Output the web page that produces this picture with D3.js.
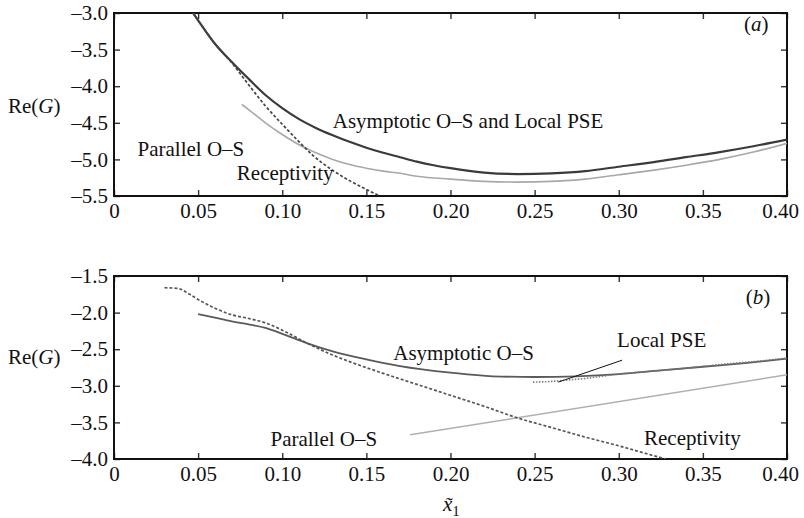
<!DOCTYPE html>
<html>
<head>
<meta charset="utf-8">
<script src="https://cdn.jsdelivr.net/npm/d3@7"></script>
<style>
  body { margin: 0; background: #fff; }
  svg text { font-family: "Liberation Serif", "Times New Roman", "DejaVu Serif", serif !important; fill: #111; }
</style>
</head>
<body>
<div id="chart"></div>
<script>

var svgWidth = 804;
var svgHeight = 518;

// x ticks shared by both panels
var xTicks = [0, 0.05, 0.10, 0.15, 0.20, 0.25, 0.30, 0.35, 0.40];

// panel (a)
var yTicksA = [-3.0, -3.5, -4.0, -4.5, -5.0, -5.5];
var asympA = [[0.047, -3.0], [0.05, -3.1], [0.06, -3.42], [0.07, -3.67], [0.08, -3.9], [0.09, -4.12],
  [0.10, -4.3], [0.11, -4.45], [0.12, -4.57], [0.13, -4.67], [0.14, -4.76], [0.15, -4.84],
  [0.16, -4.91], [0.17, -4.97], [0.18, -5.03], [0.19, -5.08], [0.20, -5.12], [0.22, -5.18],
  [0.24, -5.2], [0.26, -5.19], [0.28, -5.16], [0.30, -5.1], [0.32, -5.04], [0.34, -4.97],
  [0.36, -4.9], [0.38, -4.82], [0.40, -4.73]];
var parallelA = [[0.076, -4.25], [0.08, -4.32], [0.09, -4.5], [0.10, -4.66], [0.11, -4.8],
  [0.12, -4.91], [0.13, -5.0], [0.14, -5.07], [0.15, -5.12], [0.16, -5.16], [0.17, -5.19],
  [0.18, -5.23], [0.20, -5.27], [0.22, -5.3], [0.24, -5.31], [0.26, -5.3], [0.28, -5.27],
  [0.30, -5.21], [0.32, -5.15], [0.34, -5.08], [0.36, -5.0], [0.38, -4.9], [0.40, -4.78]];
var receptA = [[0.047, -3.0], [0.05, -3.1], [0.06, -3.42], [0.07, -3.68], [0.08, -3.98],
  [0.09, -4.27], [0.10, -4.52], [0.11, -4.76], [0.118, -4.94], [0.13, -5.15], [0.14, -5.29],
  [0.15, -5.41], [0.158, -5.5]];

// panel (b)
var yTicksB = [-1.5, -2.0, -2.5, -3.0, -3.5, -4.0];
var asympB = [[0.05, -2.02], [0.06, -2.07], [0.07, -2.12], [0.08, -2.16], [0.09, -2.21],
  [0.10, -2.29], [0.115, -2.42], [0.13, -2.53], [0.15, -2.64], [0.17, -2.73], [0.20, -2.82],
  [0.225, -2.87], [0.25, -2.88], [0.275, -2.87], [0.30, -2.84], [0.325, -2.79], [0.35, -2.74],
  [0.375, -2.69], [0.40, -2.63]];
var localPseB = [[0.249, -2.95], [0.26, -2.94], [0.27, -2.92], [0.28, -2.9], [0.29, -2.87],
  [0.30, -2.84], [0.32, -2.8], [0.34, -2.76], [0.36, -2.71], [0.38, -2.67], [0.40, -2.62]];
var parallelB = [[0.176, -3.67], [0.40, -2.85]];
var receptB = [[0.030, -1.66], [0.038, -1.67], [0.045, -1.75], [0.05, -1.82], [0.06, -1.94],
  [0.07, -2.03], [0.08, -2.08], [0.09, -2.14], [0.10, -2.24], [0.115, -2.42], [0.13, -2.58],
  [0.14, -2.67], [0.16, -2.83], [0.18, -2.98], [0.20, -3.13], [0.22, -3.28], [0.24, -3.44],
  [0.26, -3.57], [0.28, -3.7], [0.30, -3.82], [0.32, -3.95], [0.328, -4.0]];

var left = 114, right = 787;
var fontSize = 21;

var svg = d3.select("#chart")
    .append("svg")
    .attr("width", svgWidth)
    .attr("height", svgHeight);

var xScale = d3.scaleLinear().domain([0, 0.40]).range([left, right]);

function fmtX(d) { return d === 0 ? "0" : d.toFixed(2); }
function fmtY(d) { return d.toFixed(1).replace("-", "\u2013"); }

function drawPanel(top, bottom, yTicks, clipId) {
    var yScale = d3.scaleLinear()
        .domain([yTicks[0], yTicks[yTicks.length - 1]])
        .range([top, bottom]);

    svg.append("clipPath").attr("id", clipId)
        .append("rect")
        .attr("x", left).attr("y", top)
        .attr("width", right - left).attr("height", bottom - top);

    var bottomAxis = d3.axisBottom(xScale).tickValues(xTicks).tickFormat(fmtX)
        .tickSize(-6).tickPadding(7);
    var topAxis = d3.axisTop(xScale).tickValues(xTicks).tickFormat("").tickSize(-6);
    var leftAxis = d3.axisLeft(yScale).tickValues(yTicks).tickFormat(fmtY)
        .tickSize(-6).tickPadding(6);
    var rightAxis = d3.axisRight(yScale).tickValues(yTicks).tickFormat("").tickSize(-6);

    var gb = svg.append("g").attr("transform", `translate(0, ${bottom})`).call(bottomAxis);
    var gt = svg.append("g").attr("transform", `translate(0, ${top})`).call(topAxis);
    var gl = svg.append("g").attr("transform", `translate(${left}, 0)`).call(leftAxis);
    var gr = svg.append("g").attr("transform", `translate(${right}, 0)`).call(rightAxis);

    [gb, gt, gl, gr].forEach(function(g) {
        g.attr("font-family", null);
        g.select(".domain").remove();
        g.selectAll(".tick line").attr("stroke", "#333").attr("stroke-width", 1.4);
        g.selectAll(".tick text")
            .attr("font-size", fontSize)
            .attr("fill", "#111");
    });

    // last label sits a little inside, as in the original
    gb.selectAll(".tick text").filter(d => d === 0.40).attr("dx", -7);

    svg.append("rect")
        .attr("x", left).attr("y", top)
        .attr("width", right - left).attr("height", bottom - top)
        .attr("fill", "none")
        .attr("stroke", "#111")
        .attr("stroke-width", 2);

    return yScale;
}

var yA = drawPanel(13, 196, yTicksA, "clipA");
var yB = drawPanel(276, 459, yTicksB, "clipB");

function curve(data, yScale, clipId, color, width, dash) {
    var line = d3.line()
        .x(d => xScale(d[0]))
        .y(d => yScale(d[1]))
        .curve(d3.curveMonotoneX);
    svg.append("path")
        .datum(data)
        .attr("clip-path", `url(#${clipId})`)
        .attr("d", line)
        .attr("fill", "none")
        .attr("stroke", color)
        .attr("stroke-width", width)
        .attr("stroke-dasharray", dash || null);
}

// panel (a) curves
curve(parallelA, yA, "clipA", "#a8a8a8", 1.6);
curve(asympA, yA, "clipA", "#3a3a3a", 2.2);
curve(receptA, yA, "clipA", "#444", 1.7, "3,2");

// panel (b) curves
curve(parallelB, yB, "clipB", "#b0b0b0", 1.5);
curve(asympB, yB, "clipB", "#5a5a5a", 1.8);
curve(localPseB, yB, "clipB", "#7a7a7a", 1.6, "1.5,1.5");
curve(receptB, yB, "clipB", "#555", 1.7, "3,2");

// labels in data coordinates
function label(txt, x, y, yScale, anchor) {
    return svg.append("text")
        .attr("x", xScale(x))
        .attr("y", yScale(y))
        .attr("text-anchor", anchor || "start")
        .attr("font-size", fontSize)
        .text(txt);
}

function panelTag(letter, x, y, yScale) {
    var t = svg.append("text")
        .attr("x", xScale(x)).attr("y", yScale(y))
        .attr("text-anchor", "end")
        .attr("font-size", fontSize);
    t.append("tspan").text("(");
    t.append("tspan").attr("font-style", "italic").text(letter);
    t.append("tspan").text(")");
}

label("Asymptotic O\u2013S and Local PSE", 0.130, -4.57, yA);
label("Parallel O\u2013S", 0.014, -4.95, yA);
label("Receptivity", 0.073, -5.28, yA);
panelTag("a", 0.389, -3.25, yA);

label("Asymptotic O\u2013S", 0.166, -2.65, yB);
label("Local PSE", 0.299, -2.47, yB);
label("Parallel O\u2013S", 0.093, -3.82, yB);
label("Receptivity", 0.315, -3.81, yB);
panelTag("b", 0.390, -1.88, yB);

// leader line for Local PSE
svg.append("line")
    .attr("x1", xScale(0.302)).attr("y1", yB(-2.65))
    .attr("x2", xScale(0.264)).attr("y2", yB(-2.95))
    .attr("stroke", "#111")
    .attr("stroke-width", 1);

// y axis titles
function reG(y) {
    var t = svg.append("text")
        .attr("x", 8).attr("y", y)
        .attr("font-size", fontSize);
    t.append("tspan").text("Re(");
    t.append("tspan").attr("font-style", "italic").text("G");
    t.append("tspan").text(")");
}
reG(113);
reG(364);

// x axis title: x tilde sub 1
var xt = svg.append("text")
    .attr("x", 443).attr("y", 511)
    .attr("font-size", fontSize);
xt.append("tspan").attr("font-style", "italic").text("x\u0303");
xt.append("tspan").attr("font-size", 15).attr("dy", 5).text("1");

</script>
</body>
</html>
